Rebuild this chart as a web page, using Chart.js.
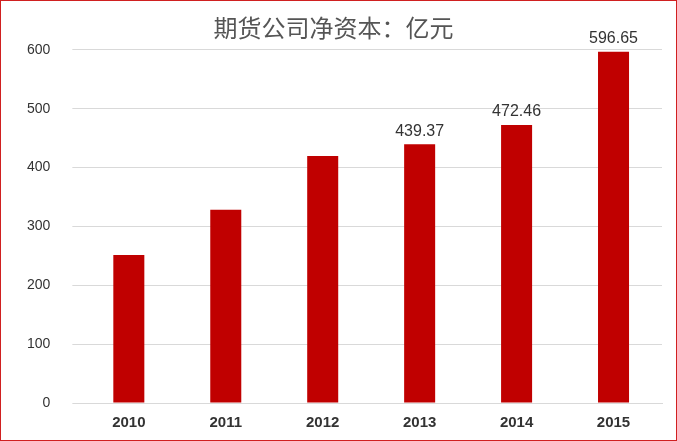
<!DOCTYPE html>
<html><head><meta charset="utf-8">
<script src="https://cdn.jsdelivr.net/npm/chart.js@4/dist/chart.umd.min.js"></script>
<style>html,body{margin:0;padding:0;background:#fff}
#w{position:absolute;left:0;top:0;width:675px;height:439px;border:1px solid #d02020}</style>
</head><body><div id="w"><canvas id="c"></canvas></div>
<script>
const categories=["2010","2011","2012","2013","2014","2015"];
const values=[251.5,328.4,419.5,439.37,472.46,596.65];
const labelShown=[false,false,false,true,true,true];
const yTicks=[0,100,200,300,400,500,600];
const labelPlugin={id:'lbl',afterDatasetsDraw(ch){const ctx=ch.ctx;const m=ch.getDatasetMeta(0);
ctx.save();ctx.font='16px "Liberation Sans", Arial';ctx.fillStyle='#333';ctx.textAlign='center';ctx.textBaseline='bottom';
m.data.forEach((b,i)=>{if(labelShown[i])ctx.fillText(values[i].toFixed(2),b.x,b.y-5);});ctx.restore();}};
new Chart(document.getElementById('c'),{type:'bar',
data:{labels:categories,datasets:[{data:values,backgroundColor:'#c00000',barPercentage:0.32,categoryPercentage:1}]},
options:{responsive:true,maintainAspectRatio:false,animation:false,
layout:{padding:{left:4,right:14,top:12,bottom:5}},
plugins:{legend:{display:false},tooltip:{enabled:false},
title:{display:true,text:'期货公司净资本：亿元',color:'#555',font:{size:24,weight:'normal',family:'"Noto Sans CJK SC"'},padding:{top:0,bottom:8}}},
scales:{x:{grid:{display:false},border:{color:'#d9d9d9'},ticks:{color:'#333',font:{size:15,weight:'bold',family:'"Liberation Sans", Arial'}}},
y:{min:0,max:600,afterBuildTicks(s){s.ticks=yTicks.map(v=>({value:v}));},grid:{color:'#d9d9d9'},border:{display:false},
ticks:{color:'#333',padding:22,font:{size:14,family:'"Liberation Sans", Arial'}}}}},
plugins:[labelPlugin]});
</script></body></html>
